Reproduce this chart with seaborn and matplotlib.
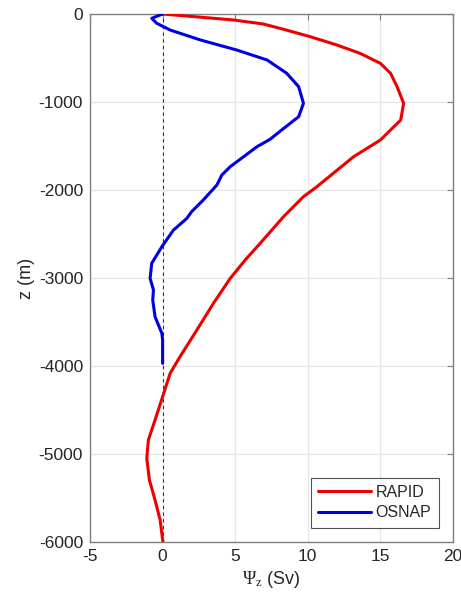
import matplotlib
matplotlib.use("Agg")
import matplotlib.pyplot as plt
import seaborn as sns
import pandas as pd

rapid_psi = [0.0, 4.88, 6.95, 8.33, 10.17, 12.0, 13.6, 15.0, 15.7, 16.15, 16.6, 16.4,
             15.7, 15.0, 13.16, 10.63, 9.7, 8.33, 6.72, 5.69, 4.66, 3.5, 2.36, 1.2,
             0.52, 0.0, -0.52, -0.98, -1.09, -0.91, -0.52, -0.17, 0.02]
rapid_z = [0, -68, -114, -174, -258, -352, -447, -561, -674, -826, -1015, -1205,
           -1318, -1432, -1621, -1962, -2076, -2303, -2606, -2795, -3004, -3288, -3591,
           -3894, -4083, -4350, -4614, -4841, -5049, -5295, -5523, -5750, -6000]

osnap_psi = [0.0, -0.75, -0.4, 0.52, 2.6, 5.1, 7.2, 8.55, 9.37, 9.7, 9.37, 8.2, 7.4,
             6.5, 4.66, 4.08, 3.74, 2.8, 2.0, 1.67, 0.75, -0.05, -0.75, -0.86, -0.63,
             -0.68, -0.52, -0.05, 0.0, 0.0]
osnap_z = [0, -49, -106, -182, -295, -409, -523, -674, -826, -1015, -1167, -1318, -1424,
           -1508, -1735, -1830, -1943, -2114, -2246, -2322, -2455, -2644, -2833, -3004,
           -3136, -3250, -3440, -3629, -3705, -3970]

xticks = [-5, 0, 5, 10, 15, 20]
yticks = [0, -1000, -2000, -3000, -4000, -5000, -6000]

df = pd.concat([
    pd.DataFrame({"psi": rapid_psi, "z": rapid_z, "src": "RAPID"}),
    pd.DataFrame({"psi": osnap_psi, "z": osnap_z, "src": "OSNAP"}),
])

sns.set_theme(style="white")
plt.rcParams['font.family'] = ['Liberation Sans', 'DejaVu Sans']
plt.rcParams['mathtext.fontset'] = 'custom'
plt.rcParams['mathtext.rm'] = 'Liberation Serif'
plt.rcParams['mathtext.it'] = 'Liberation Serif:italic'

fig = plt.figure(figsize=(4.61, 6.06), dpi=100)
ax = fig.add_axes([90/461, 64/606, 363/461, 528/606])

ax.axvline(0, color="#333333", lw=0.8, ls=(0, (3, 3)), zorder=1)
sns.lineplot(data=df, x="psi", y="z", hue="src", sort=False, estimator=None,
             palette={"RAPID": "#ee0000", "OSNAP": "#0000e6"}, lw=2.2, ax=ax, zorder=3)
for ln in ax.get_lines():
    ln.set_solid_joinstyle("round")
    ln.set_solid_capstyle("round")

ax.set_xlim(-5, 20)
ax.set_ylim(-6000, 0)
ax.set_xticks(xticks)
ax.set_xticklabels([str(t) for t in xticks])
ax.set_yticks(yticks)
ax.set_yticklabels([str(t) for t in yticks])
ax.grid(True, color="#e6e6e6", lw=0.9)
ax.set_axisbelow(True)
for s in ax.spines.values():
    s.set_color("#808080")
    s.set_linewidth(1.0)
ax.tick_params(direction="in", length=4, width=0.8, color="#808080", top=True, right=True,
               labelsize=12.5, labelcolor="#262626", pad=5)
ax.set_xlabel(r"$\Psi_{\rm z}$ (Sv)", fontsize=13, color="#262626", labelpad=4)
ax.set_ylabel("z (m)", fontsize=13, color="#262626", labelpad=3)

leg = ax.legend(loc="lower right", fontsize=11.5, frameon=True, fancybox=False,
                edgecolor="#262626", handlelength=3.3, borderpad=0.45, labelspacing=0.35,
                handletextpad=0.3, borderaxespad=0.9)
leg.get_frame().set_linewidth(0.8)
leg.set_title(None)

fig.savefig("out.png", dpi=100)
